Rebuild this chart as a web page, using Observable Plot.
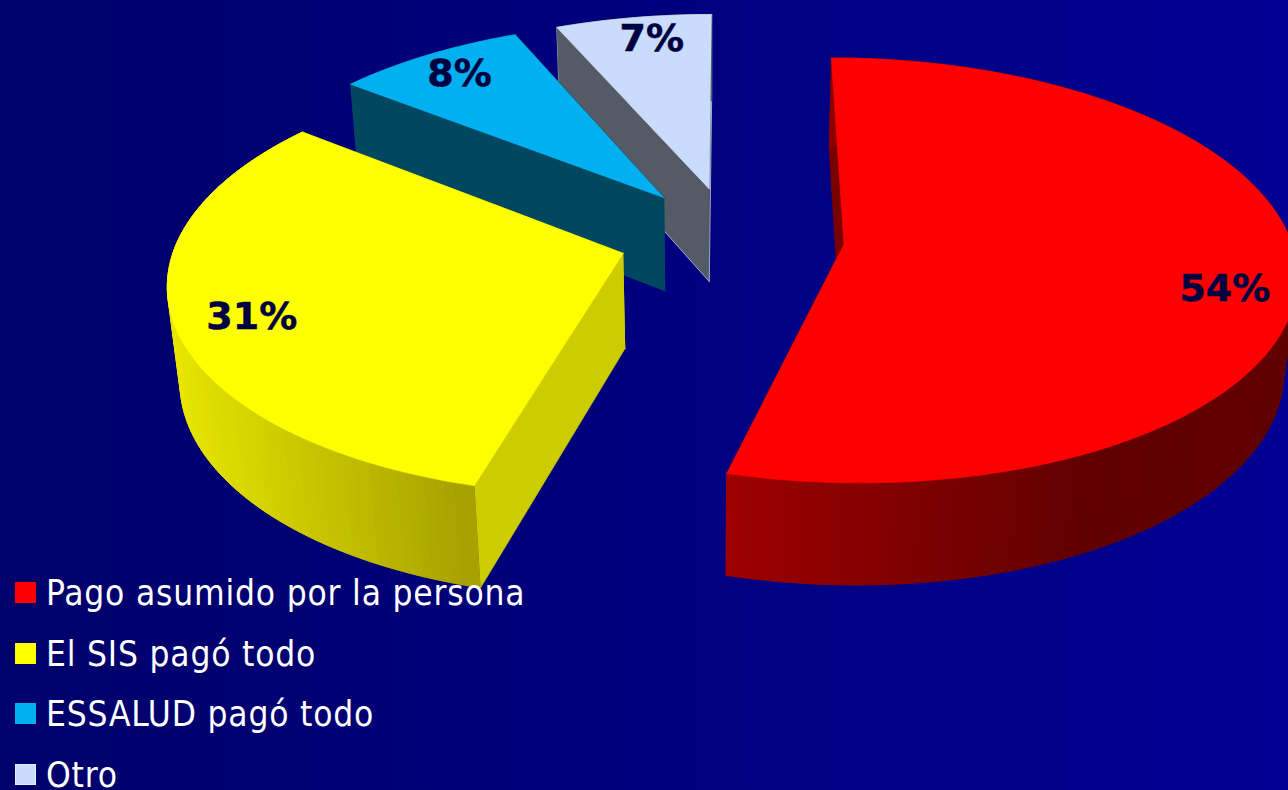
<!DOCTYPE html>
<html><head><meta charset="utf-8">
<script src="https://cdn.jsdelivr.net/npm/d3@7"></script>
<script src="https://cdn.jsdelivr.net/npm/@observablehq/plot@0.6"></script>
<style>
html,body{margin:0;padding:0;width:1288px;height:790px;overflow:hidden;background:linear-gradient(90deg,#00006a 0%,#000080 55%,#000092 100%);}
#c{position:absolute;left:0;top:0}
#c svg{background:transparent!important;display:block}
.leg{position:absolute;left:15px;color:#fff;font:35px "DejaVu Sans";font-stretch:condensed;letter-spacing:.8px;white-space:nowrap;height:30px;line-height:30px;padding-left:31px}
.leg i{position:absolute;left:0;top:4px;width:21px;height:21px;box-sizing:border-box}
</style></head><body>
<div id="c"></div>
<div id="l"></div>
<script>
const categories=["Pago asumido por la persona","El SIS pagó todo","ESSALUD pagó todo","Otro"];
const values=[54.2,31.4,7.9,6.5];
const labels=["54%","31%","8%","7%"];
const topColors=["#ff0000","#ffff00","#00b0f0","#c9dcfb"];
const radialWall=["#7a0000","#cccc00","#00475f","#555b66"];
const outerLeft=["#a00000","#e6e600","#00475f","#555b66"];
const outerRight=["#600000","#a8a000","#00475f","#555b66"];
const outerXRange=[[727,1100],[175,475],[350,520],[560,713]];
const edgeColors=[null,null,null,"#d5def0"];
const labelFrac=[0.535,0.482,0.505,0.565];
const labelRad=[0.848,0.838,0.858,0.857];
const legendTops=[578,639,699,760];

// perspective model of the pie
const Rx=446,Ry=462,E=113,D=3690,x0=731,yh=-1420,L=1656.5,Nx=710,Ny=4400,kh=0.0227;
function proj(X,Y,h=0){
  const s=1/(1-Y/D);
  let x=x0+X*s,y=yh+L*s;
  if(h){const k=kh*s;x+=(Nx-x)*k;y+=(Ny-y)*k;}
  return {x,y};
}
const total=d3.sum(values);
let cum=0;
const slices=values.map((v,i)=>{
  const a0=cum/total*2*Math.PI;cum+=v;const a1=cum/total*2*Math.PI;
  const m=(a0+a1)/2;
  return {i,a0,a1,cx:E*Math.sin(m),cy:-E*Math.cos(m)};
});
const polys=[];let pid=0;
function add(points,fill,stroke){const id=pid++;for(const p of points)polys.push({...p,id,fill,stroke:stroke||fill});}
const rim=(s,a,h)=>proj(s.cx+Rx*Math.sin(a),s.cy-Ry*Math.cos(a),h);
for(const s of [...slices].reverse()){
  const i=s.i,e=edgeColors[i];
  const ap=proj(s.cx,s.cy),apB=proj(s.cx,s.cy,1);
  // radial walls
  for(const a of [s.a0,s.a1]) add([ap,rim(s,a,0),rim(s,a,1),apB],radialWall[i],e);
  // outer wall facets, painted overlapping so no seam shows
  const n=Math.ceil((s.a1-s.a0)/(Math.PI/150));
  const da=(s.a1-s.a0)/n;
  const t=d3.scaleLinear().domain(outerXRange[i]).range([0,1]).clamp(true);
  const col=d3.interpolateRgb(outerLeft[i],outerRight[i]);
  for(let j=n-1;j>=0;j--){
    const a=s.a0+da*j,b=Math.min(s.a1,a+da*2);
    const pa=rim(s,a,0),pb=rim(s,b,0);
    const c=d3.color(col(t(rim(s,a+da/2,0).x))).formatHex();
    add([pa,pb,rim(s,b,1),rim(s,a,1)],c,c);
  }
  // top face
  const arc=d3.range(n+1).map(j=>rim(s,s.a0+da*j,0));
  add([ap,...arc],topColors[i],e);
}
const labelRows=slices.map(s=>{
  const a=s.a0+(s.a1-s.a0)*labelFrac[s.i],r=labelRad[s.i];
  return {...proj(s.cx+Rx*r*Math.sin(a),s.cy-Ry*r*Math.cos(a)),text:labels[s.i]};
});
const plot=Plot.plot({
  width:1288,height:790,margin:0,
  x:{domain:[0,1288],range:[0,1288],axis:null},
  y:{domain:[0,790],range:[0,790],axis:null},
  color:{type:"identity"},
  style:{background:"transparent"},
  marks:[
    Plot.line(polys,{x:"x",y:"y",z:"id",fill:"fill",stroke:"stroke",strokeWidth:0.7,strokeLinejoin:"round"}),
    Plot.text(labelRows,{x:"x",y:"y",text:"text",fill:"#000040",stroke:"#000040",strokeWidth:0.5,fontSize:38,fontWeight:"bold",fontFamily:"DejaVu Sans",textAnchor:"middle",lineAnchor:"middle"})
  ]
});
document.getElementById("c").append(plot);
const l=document.getElementById("l");
categories.forEach((c,i)=>{
  const d=document.createElement("div");d.className="leg";d.style.top=legendTops[i]+"px";
  const b=document.createElement("i");b.style.background=topColors[i];
  if(i==3)b.style.border="1.5px solid #e8eefc";
  d.append(b,c);l.append(d);
});
</script></body></html>
